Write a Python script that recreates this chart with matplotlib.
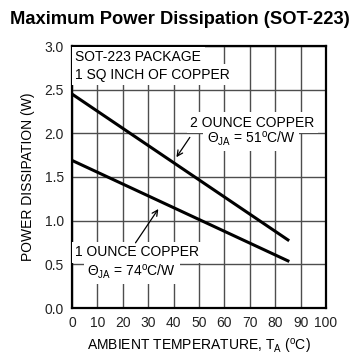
import matplotlib
matplotlib.use("Agg")
import matplotlib.pyplot as plt
import numpy as np

plt.rcParams['font.family'] = ['Liberation Sans', 'DejaVu Sans']
plt.rcParams['mathtext.fontset'] = 'custom'
plt.rcParams['mathtext.rm'] = 'Liberation Sans'
plt.rcParams['mathtext.it'] = 'Liberation Sans'
plt.rcParams['mathtext.bf'] = 'Liberation Sans:bold'

# Data
temp_2oz = [0, 85]
power_2oz = [2.45, 0.78]
temp_1oz = [0, 85]
power_1oz = [1.69, 0.54]
x_ticks = [0, 10, 20, 30, 40, 50, 60, 70, 80, 90, 100]
y_ticks = [0.0, 0.5, 1.0, 1.5, 2.0, 2.5, 3.0]

fig = plt.figure(figsize=(3.59, 3.64), dpi=100)
ax = fig.add_axes([72/359, 1-308/364, 254/359, 262/364])
ax.set_xlim(0, 100)
ax.set_ylim(0, 3.0)
ax.set_xticks(x_ticks)
ax.set_yticks(y_ticks)
ax.set_xticklabels([str(v) for v in x_ticks])
ax.set_yticklabels([f"{v:.1f}" for v in y_ticks])
ax.tick_params(length=0, labelsize=10, pad=6, labelcolor='#222222')
ax.grid(True, color='0.3', linewidth=1.0, zorder=0)
ax.set_axisbelow(True)
for s in ax.spines.values():
    s.set_linewidth(1.6)

ax.plot(temp_2oz, power_2oz, color='black', lw=2.2, zorder=3)
ax.plot(temp_1oz, power_1oz, color='black', lw=2.2, zorder=3)

fs = 10
bb = dict(facecolor='white', edgecolor='none', pad=2.5)


def label(x, y, s, ha):
    # white backing box below, text above
    ax.text(x, y, s, fontsize=fs, va='center', ha=ha, bbox=bb, color='white', zorder=4)
    ax.text(x, y, s, fontsize=fs, va='center', ha=ha, color='black', zorder=6)


label(1.3, 2.87, "SOT-223 PACKAGE", 'left')
label(1.3, 2.67, "1 SQ INCH OF COPPER", 'left')
label(71, 2.12, "2 OUNCE COPPER", 'center')
label(70.5, 1.94, r"$\Theta_{\rm JA}$ = 51$^{\rm o}$C/W", 'center')
label(1.3, 0.64, "1 OUNCE COPPER", 'left')
label(23.5, 0.42, r"$\Theta_{\rm JA}$ = 74$^{\rm o}$C/W", 'center')

ax.annotate("", xy=(40.5, 1.70), xytext=(47, 1.98),
            arrowprops=dict(arrowstyle='->', color='black', lw=0.9), zorder=5)
ax.annotate("", xy=(34.6, 1.16), xytext=(24.4, 0.72),
            arrowprops=dict(arrowstyle='->', color='black', lw=0.9), zorder=5)

ax.set_xlabel(r"AMBIENT TEMPERATURE, T$_{\rm A}$ ($^{\rm o}$C)", fontsize=fs, labelpad=5)
ax.set_ylabel("POWER DISSIPATION (W)", fontsize=fs, labelpad=7)

fig.text(0.5, 1-20/364, "Maximum Power Dissipation (SOT-223)", fontsize=13.2,
         fontweight='bold', ha='center', va='center')

fig.savefig("out.png", dpi=100)
